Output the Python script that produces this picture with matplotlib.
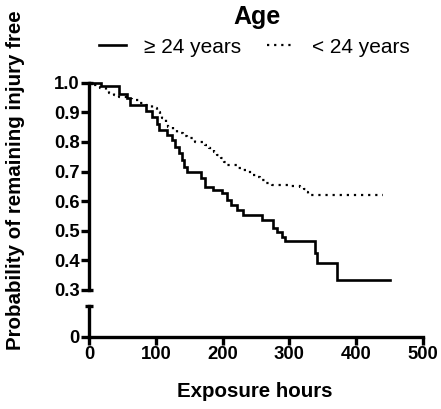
import matplotlib
matplotlib.use("Agg")
import matplotlib.pyplot as plt
from matplotlib.lines import Line2D

plt.rcParams['font.family'] = ['Liberation Sans', 'DejaVu Sans']

# ---- data ----
old_times = [0, 18, 45, 57, 62, 85, 95, 102, 105, 117, 124, 129, 134, 139, 142, 146,
             167, 174, 185, 199, 206, 213, 221, 231, 259, 276, 281, 289, 294, 338, 341, 371, 451]
old_surv = [1.0, 0.988, 0.962, 0.947, 0.925, 0.905, 0.885, 0.862, 0.84, 0.823, 0.806, 0.784,
            0.761, 0.738, 0.716, 0.70, 0.677, 0.649, 0.638, 0.626, 0.604, 0.587, 0.57, 0.553,
            0.538, 0.508, 0.497, 0.48, 0.466, 0.424, 0.39, 0.335, 0.335]

young_times = [0, 5, 12, 17, 25, 30, 37, 45, 57, 65, 77, 85, 95, 102, 106, 110, 115, 119, 125,
               132, 140, 147, 159, 174, 180, 187, 192, 197, 202, 207, 221, 230, 241, 250, 256,
               265, 274, 300, 316, 322, 326, 328, 440]
young_surv = [1.0, 0.992, 0.985, 0.981, 0.972, 0.965, 0.958, 0.952, 0.944, 0.94, 0.932, 0.925,
              0.913, 0.902, 0.89, 0.88, 0.865, 0.851, 0.84, 0.829, 0.82, 0.812, 0.801, 0.79,
              0.778, 0.767, 0.755, 0.745, 0.733, 0.722, 0.711, 0.705, 0.688, 0.68, 0.671,
              0.662, 0.654, 0.652, 0.649, 0.64, 0.632, 0.62, 0.62]

labels = ["\u2265 24 years", "< 24 years"]
x_ticks = [0, 100, 200, 300, 400, 500]
y_ticks_top = [0.3, 0.4, 0.5, 0.6, 0.7, 0.8, 0.9, 1.0]

W, H = 441, 409
fig = plt.figure(figsize=(W / 100, H / 100), dpi=100)

left, right = 89 / W, 423 / W
top_ax = fig.add_axes([left, 1 - 290 / H, right - left, (290 - 82.7) / H])
bot_ax = fig.add_axes([left, 1 - 336.7 / H, right - left, (336.7 - 306) / H])

lw_sp = 2.4
TICK_LEN = 5.5
CAP_LEN = 3.0
LAB_SIZE = 13.3

# top axes: curves
top_ax.step(old_times, old_surv, where='post', color='black', lw=1.9,
            clip_on=False, solid_joinstyle='miter')
top_ax.step(young_times, young_surv, where='post', color='black', lw=1.6,
            linestyle=(0, (1, 2.2)), clip_on=False)
top_ax.set_xlim(0, 500)
top_ax.set_ylim(0.3, 1.0)
for s in ['top', 'right', 'bottom']:
    top_ax.spines[s].set_visible(False)
top_ax.spines['left'].set_linewidth(lw_sp)
top_ax.spines['left'].set_capstyle('projecting')
top_ax.xaxis.set_visible(False)
top_ax.yaxis.remove_overlapping_locs = False
top_ax.set_yticks(y_ticks_top)
top_ax.set_yticklabels([f"{v:.1f}" for v in y_ticks_top], fontweight='bold')
top_ax.set_yticks([0.3, 1.0], minor=True)
top_ax.tick_params(axis='y', which='major', direction='out', length=TICK_LEN,
                   width=lw_sp, labelsize=LAB_SIZE, pad=1.0, color='black')
top_ax.tick_params(axis='y', which='minor', direction='in', length=CAP_LEN,
                   width=lw_sp, color='black')
top_ax.patch.set_alpha(0)

# bottom axes (broken segment)
bot_ax.set_xlim(0, 500)
bot_ax.set_ylim(0, 1)
for s in ['top', 'right']:
    bot_ax.spines[s].set_visible(False)
bot_ax.spines['left'].set_linewidth(lw_sp)
bot_ax.spines['bottom'].set_linewidth(lw_sp)
bot_ax.spines['left'].set_capstyle('projecting')
bot_ax.spines['bottom'].set_capstyle('projecting')
bot_ax.yaxis.remove_overlapping_locs = False
bot_ax.set_xticks(x_ticks)
bot_ax.set_xticklabels([str(v) for v in x_ticks], fontweight='bold')
bot_ax.set_yticks([0])
bot_ax.set_yticklabels(["0"], fontweight='bold')
bot_ax.tick_params(axis='both', which='major', direction='out', length=TICK_LEN,
                   width=lw_sp, labelsize=LAB_SIZE, pad=1.5, color='black')
bot_ax.set_yticks([1], minor=True)
bot_ax.tick_params(axis='y', which='minor', direction='inout', length=2 * CAP_LEN,
                   width=lw_sp, color='black')
bot_ax.patch.set_alpha(0)

# labels
fig.text(0.578, 0.044, "Exposure hours", ha='center', va='center',
         fontsize=14.8, fontweight='bold')
fig.text(0.036, 0.56, "Probability of remaining injury free", ha='center', va='center',
         rotation=90, fontsize=14.8, fontweight='bold')
fig.text(0.583, 0.958, "Age", ha='center', va='center', fontsize=18, fontweight='bold')

h1 = Line2D([], [], color='black', lw=1.9)
h2 = Line2D([], [], color='black', lw=1.6, linestyle=(0, (1, 2.2)))
fig.legend([h1, h2], labels, loc='center', bbox_to_anchor=(0.576, 0.885), ncol=2,
           frameon=False, fontsize=15, handlelength=1.3, handletextpad=0.85,
           columnspacing=1.25, borderpad=0, borderaxespad=0)

fig.savefig("out.png", dpi=100)
